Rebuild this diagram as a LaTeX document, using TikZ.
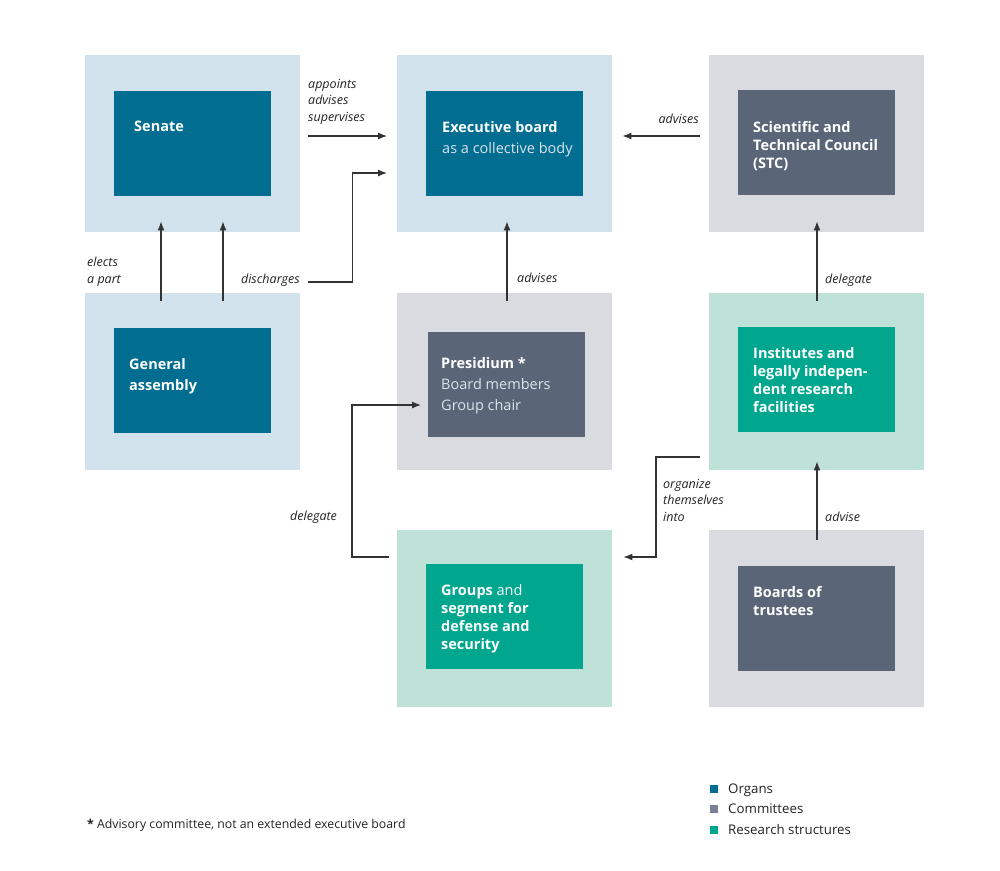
\documentclass[tikz,border=0pt]{standalone}
\usepackage{fontspec}
\setmainfont{Open Sans}
\usetikzlibrary{arrows.meta,calc}
\definecolor{orgIn}{HTML}{006D91}
\definecolor{orgOut}{HTML}{D2E2EC}
\definecolor{comIn}{HTML}{5A6577}
\definecolor{comOut}{HTML}{DADAE1}
\definecolor{resIn}{HTML}{00A78E}
\definecolor{resOut}{HTML}{BFE2D8}
\definecolor{comSq}{HTML}{7A8196}
\definecolor{linec}{HTML}{333333}
\definecolor{subtxt}{HTML}{DDE4EC}
\definecolor{txt}{HTML}{222222}
\begin{document}
\begin{tikzpicture}[x=1pt,y=-1pt,
  outerbox/.style={rectangle,inner sep=0pt,anchor=north west,minimum width=215pt,minimum height=177pt,draw=none},
  innerbox/.style={rectangle,inner sep=0pt,anchor=north west,minimum width=157pt,minimum height=105pt,draw=none},
  boxtxt/.style={inner sep=0pt,anchor=base west,align=left,text=white,font=\fontsize{14.5}{18}\selectfont},
  boxtxtw/.style={boxtxt,font=\fontsize{14.5}{21}\selectfont},
  lbl/.style={inner sep=0pt,anchor=base west,align=left,text=txt,font=\itshape\fontsize{12.5}{16.5}\selectfont},
  arr/.style={draw=linec,line width=1.2pt,-{Latex[length=9pt,width=7pt]}},
  legsq/.style={rectangle,inner sep=0pt,minimum size=8pt,anchor=north west,draw=none},
  legtxt/.style={inner sep=0pt,anchor=base west,text=txt,font=\fontsize{13.3}{16}\selectfont}
]
\useasboundingbox (0,0) rectangle (1000,870);
% outer boxes
\node[outerbox,fill=orgOut] (senO) at (85,55) {};
\node[outerbox,fill=orgOut] (exeO) at (397,55) {};
\node[outerbox,fill=comOut] (stcO) at (709,55) {};
\node[outerbox,fill=orgOut] (gaO) at (85,293) {};
\node[outerbox,fill=comOut] (preO) at (397,293) {};
\node[outerbox,fill=resOut] (insO) at (709,293) {};
\node[outerbox,fill=resOut] (grpO) at (397,530) {};
\node[outerbox,fill=comOut] (botO) at (709,530) {};
% inner boxes
\node[innerbox,fill=orgIn] (senI) at (114,91) {};
\node[innerbox,fill=orgIn] (exeI) at (426,91) {};
\node[innerbox,fill=comIn] (stcI) at (738,90) {};
\node[innerbox,fill=orgIn] (gaI) at (114,328) {};
\node[innerbox,fill=comIn] (preI) at (428,332) {};
\node[innerbox,fill=resIn] (insI) at (738,327) {};
\node[innerbox,fill=resIn] (grpI) at (426,564) {};
\node[innerbox,fill=comIn] (botI) at (738,566) {};
% box texts (anchored at the baseline of the last line)
\node[boxtxt] (senT) at (134,131) {\bfseries Senate};
\node[boxtxtw] (exeT) at (442,153) {\bfseries Executive board\\\color{subtxt}as a collective body};
\node[boxtxt] (stcT) at (753,168) {\bfseries Scientific and\\\bfseries Technical Council\\\bfseries (STC)};
\node[boxtxtw] (gaT) at (129,390) {\bfseries General\\\bfseries assembly};
\node[boxtxtw] (preT) at (441,410) {\bfseries Presidium *\\\color{subtxt}Board members\\\color{subtxt}Group chair};
\node[boxtxt] (insT) at (753,412) {\bfseries Institutes and\\\bfseries legally indepen-\\\bfseries dent research\\\bfseries facilities};
\node[boxtxt] (grpT) at (441,649) {\textbf{Groups} and\\\bfseries segment for\\\bfseries defense and\\\bfseries security};
\node[boxtxt] (botT) at (753,615) {\bfseries Boards of\\\bfseries trustees};
% connectors
\draw[arr] ([xshift=8pt]senO.east |- 0,136) -- ([xshift=-10pt]exeO.west |- 0,136);
\draw[arr] ([xshift=8pt]senO.east |- 0,282) -| ([xshift=52pt]senO.east |- 0,173) -- ([xshift=-10pt]exeO.west |- 0,173);
\draw[arr] ([xshift=-9pt]stcO.west |- 0,136) -- ([xshift=10pt]exeO.east |- 0,136);
\draw[arr] ([yshift=-8pt]gaO.north -| 161,0) -- ([yshift=11pt]senO.south -| 161,0);
\draw[arr] ([yshift=-8pt]gaO.north -| 223,0) -- ([yshift=11pt]senO.south -| 223,0);
\draw[arr] ([yshift=-8pt]preO.north -| 507,0) -- ([yshift=11pt]exeO.south -| 507,0);
\draw[arr] ([yshift=-8pt]insO.north -| 817,0) -- ([yshift=11pt]stcO.south -| 817,0);
\draw[arr] ([yshift=-10pt]botO.north -| 817,0) -- ([yshift=9pt]insO.south -| 817,0);
\draw[arr] ([xshift=-8pt]grpO.west |- 0,557) -| ([xshift=-45pt]grpO.west |- 0,405) -- ([xshift=-7pt]preI.west |- 0,405);
\draw[arr] ([xshift=-9pt]insO.west |- 0,457) -| ([xshift=-53pt]insO.west |- 0,557) -- ([xshift=11pt]grpO.east |- 0,557);
% connector labels (anchored at the baseline of the last line)
\node[lbl] (lApp) at (308,121) {appoints\\advises\\supervises};
\node[lbl] (lEle) at (87,283) {elects\\a part};
\node[lbl,anchor=base east] (lDis) at (300,283) {discharges};
\node[lbl,anchor=base east] (lAdv1) at (699,123) {advises};
\node[lbl] (lAdv2) at (517,282) {advises};
\node[lbl] (lDel1) at (825,283) {delegate};
\node[lbl] (lAdv3) at (825,521) {advise};
\node[lbl] (lDel2) at (290,520) {delegate};
\node[lbl] (lOrg) at (663,521) {organize\\themselves\\into};
% legend
\node[legsq,fill=orgIn] (sq1) at (710,785) {};
\node[legsq,fill=comSq] (sq2) at (710,805) {};
\node[legsq,fill=resIn] (sq3) at (710,826) {};
\node[legtxt] (lg1) at (728,793) {Organs};
\node[legtxt] (lg2) at (728,813) {Committees};
\node[legtxt] (lg3) at (728,834) {Research structures};
% footnote
\node[legtxt,font=\fontsize{12.3}{15}\selectfont] (fn) at (87,828) {\textbf{*} Advisory committee, not an extended executive board};
\end{tikzpicture}
\end{document}
